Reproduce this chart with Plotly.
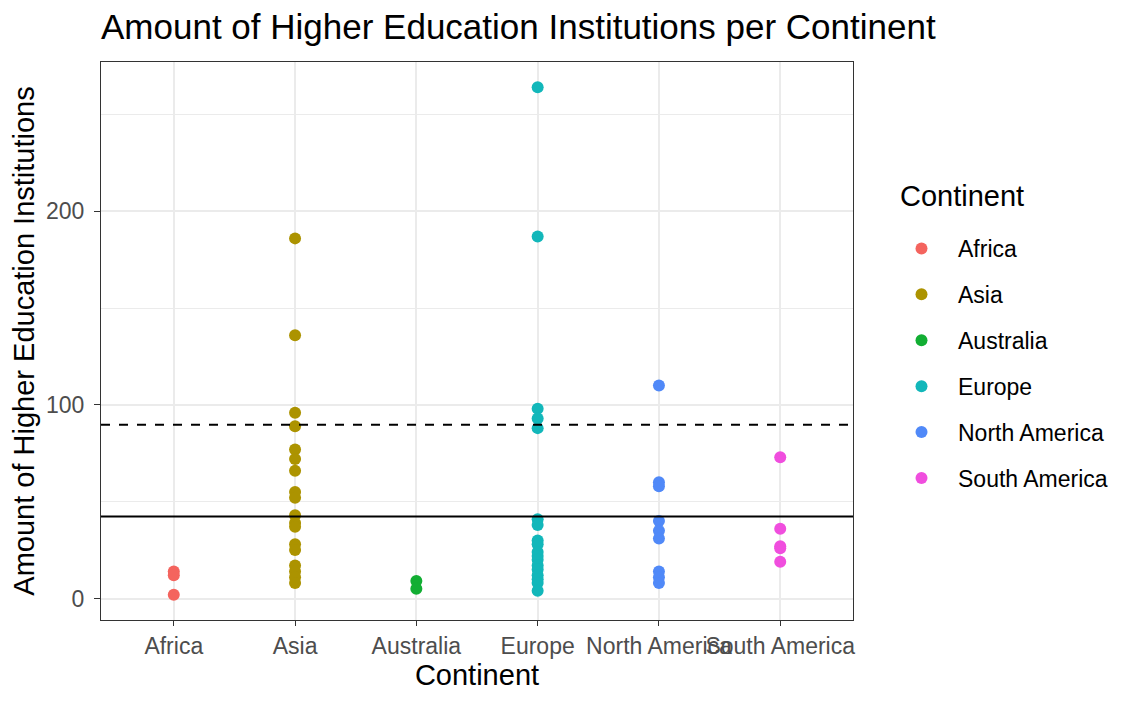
import plotly.graph_objects as go

continents = ["Africa", "Asia", "Australia", "Europe", "North America", "South America"]
colors = ["#F4645E", "#AC9300", "#12AE33", "#12B7BA", "#5089F8", "#F04EDE"]

africa = [14, 12, 2]
asia = [186, 136, 96, 89, 77, 72, 66, 55, 52, 43, 39, 37, 28, 25, 17, 14, 11, 8]
australia = [9, 5]
europe = [264, 187, 98, 93, 88, 41, 38, 30, 28, 24, 22, 20, 17, 15, 12, 10, 8, 4]
north_america = [110, 60, 58, 40, 35, 31, 14, 11, 8]
south_america = [73, 36, 27, 26, 19]
values = [africa, asia, australia, europe, north_america, south_america]

mean_line = 42.3
dashed_line = 89.7

y_major = [0, 100, 200]
y_minor = [50, 150, 250]

fig = go.Figure()
for name, vals, col in zip(continents, values, colors):
    fig.add_trace(go.Scatter(
        x=[name] * len(vals), y=vals, mode="markers", name=name,
        legendgroup=name,
        marker=dict(color=col, size=12, line=dict(width=0)),
    ))

fig.add_shape(type="line", xref="paper", yref="y", x0=0, x1=1, y0=mean_line, y1=mean_line,
              line=dict(color="black", width=2))
fig.add_shape(type="line", xref="paper", yref="y", x0=0, x1=1, y0=dashed_line, y1=dashed_line,
              line=dict(color="black", width=2, dash="dash"))

fig.add_annotation(text="Continent", xref="paper", yref="paper",
                   x=(890 - 93) / 752, y=(705 - 93 - 188) / 558,
                   xanchor="left", yanchor="middle", showarrow=False,
                   font=dict(size=29, color="black"))

font_family = "Liberation Sans, Arial, sans-serif"
fig.update_layout(
    width=1142, height=705,
    margin=dict(l=93, r=297, t=54, b=93, autoexpand=False),
    paper_bgcolor="white", plot_bgcolor="white",
    font=dict(family=font_family, color="black"),
    title=dict(text="Amount of Higher Education Institutions per Continent",
               x=93 / 1142, xanchor="left", y=1 - 19 / 705, yanchor="middle",
               font=dict(size=35, color="black")),
    showlegend=True,
    legend=dict(xref="container", yref="container",
                x=877 / 1142, xanchor="left", y=1 - 219 / 705, yanchor="top",
                font=dict(size=23), tracegroupgap=13, itemsizing="constant",
                itemwidth=63),
    xaxis=dict(type="category", categoryorder="array", categoryarray=continents,
               range=[-0.6, 5.6], showgrid=True, gridcolor="#EBEBEB", gridwidth=2,
               tickfont=dict(size=23, color="#4D4D4D"), ticks="outside", ticklen=5,
               tickcolor="#333333", tickangle=0, automargin=False,
               title=dict(text="Continent", font=dict(size=29), standoff=4),
               showline=True, linecolor="#333333", linewidth=1, mirror=True, zeroline=False),
    yaxis=dict(range=[-11.1, 277.1], tickvals=y_major, ticktext=[str(v) for v in y_major],
               showgrid=True, gridcolor="#EBEBEB", gridwidth=2,
               minor=dict(tickvals=y_minor, showgrid=True, gridcolor="#EBEBEB", gridwidth=1),
               tickfont=dict(size=23, color="#4D4D4D"), ticks="outside", ticklen=6,
               tickcolor="#333333", ticklabelstandoff=5, automargin=False,
               title=dict(text="Amount of Higher Education Institutions", font=dict(size=29), standoff=6),
               showline=True, linecolor="#333333", linewidth=1, mirror=True, zeroline=False),
)

fig.write_html("out.html")
